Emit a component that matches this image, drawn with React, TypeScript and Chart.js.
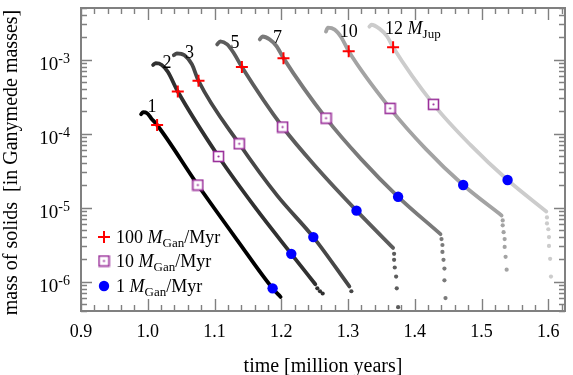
import { useEffect, useRef } from "react";
import { Chart, registerables } from "chart.js";

Chart.register(...registerables);

// ---------- data ----------
const X_MIN = 0.9;
const X_MAX = 1.625;
const Y_MIN = 4e-7;
const Y_MAX = 5e-3;

const xTickValues = [0.9, 1.0, 1.1, 1.2, 1.3, 1.4, 1.5, 1.6];
const xTickLabels = ["0.9", "1.0", "1.1", "1.2", "1.3", "1.4", "1.5", "1.6"];
const yTickExponents = [-6, -5, -4, -3];

const c1T = [0.99, 0.993, 0.999, 1.005, 1.014, 1.075, 1.135, 1.187, 1.199];
const c1M = [1.83e-4, 1.95e-4, 1.89e-4, 1.62e-4, 1.31e-4, 2.02e-5, 3.53e-6, 8.1e-7, 6.2e-7];
const c1TailT: number[] = [];
const c1TailM: number[] = [];

const c2T = [1.008, 1.012, 1.021, 1.03, 1.045, 1.106, 1.16, 1.215, 1.251];
const c2M = [8.48e-4, 9.0e-4, 8.5e-4, 6.85e-4, 3.71e-4, 4.91e-5, 1.03e-5, 2.37e-6, 9.2e-7];
const c2TailT = [1.254, 1.258, 1.262];
const c2TailM = [8.1e-7, 7.4e-7, 6.9e-7];

const c3T = [1.039, 1.0435, 1.055, 1.066, 1.076, 1.137, 1.194, 1.248, 1.302];
const c3M = [1.15e-3, 1.22e-3, 1.15e-3, 8.7e-4, 5.19e-4, 7.3e-5, 1.45e-5, 3.99e-6, 8.6e-7];
const c3TailT = [1.305];
const c3TailM = [7.4e-7];

const c5T = [1.104, 1.1086, 1.119, 1.129, 1.141, 1.202, 1.2565, 1.3127, 1.3675];
const c5M = [1.61e-3, 1.77e-3, 1.61e-3, 1.22e-3, 7.97e-4, 1.23e-4, 3.2e-5, 9.1e-6, 2.85e-6];
const c5TailT = [1.369, 1.369, 1.37, 1.372, 1.373, 1.375];
const c5TailM = [2.37e-6, 1.97e-6, 1.55e-6, 1.17e-6, 8.1e-7, 4.5e-7];

const c7T = [1.1678, 1.172, 1.1825, 1.193, 1.2033, 1.267, 1.32, 1.375, 1.4385];
const c7M = [1.88e-3, 2.06e-3, 1.88e-3, 1.52e-3, 1.05e-3, 1.62e-4, 4.49e-5, 1.4e-5, 4.38e-6];
const c7TailT = [1.44, 1.4414, 1.4414, 1.443, 1.4444, 1.4444, 1.446];
const c7TailM = [3.75e-6, 3.12e-6, 2.52e-6, 1.97e-6, 1.5e-6, 1.04e-6, 5.98e-7];

const c10T = [1.2669, 1.2698, 1.28, 1.29, 1.301, 1.363, 1.416, 1.4725, 1.53];
const c10M = [2.4e-3, 2.71e-3, 2.55e-3, 2.0e-3, 1.3e-3, 2.2e-4, 6.28e-5, 2.02e-5, 7.83e-6];
const c10TailT = [1.5317, 1.5317, 1.533, 1.5346, 1.5346, 1.536, 1.5376];
const c10TailM = [6.7e-6, 5.76e-6, 4.65e-6, 3.75e-6, 2.94e-6, 2.16e-6, 1.45e-6];

const c12T = [1.332, 1.335, 1.347, 1.3586, 1.3675, 1.428, 1.483, 1.539, 1.597];
const c12M = [2.8e-3, 2.97e-3, 2.63e-3, 2.06e-3, 1.47e-3, 2.49e-4, 7.1e-5, 2.36e-5, 8.85e-6];
const c12TailT = [1.598, 1.598, 1.6, 1.601, 1.601, 1.6027, 1.604];
const c12TailM = [7.36e-6, 6.12e-6, 5.1e-6, 3.99e-6, 3.03e-6, 2.03e-6, 1.17e-6];

const plusT = [1.014, 1.045, 1.076, 1.141, 1.2033, 1.301, 1.3675];
const plusM = [1.31e-4, 3.71e-4, 5.19e-4, 7.97e-4, 1.05e-3, 1.3e-3, 1.47e-3];
const squareT = [1.075, 1.106, 1.137, 1.202, 1.267, 1.363, 1.428];
const squareM = [2.02e-5, 4.91e-5, 7.3e-5, 1.23e-4, 1.62e-4, 2.2e-4, 2.49e-4];
const circleT = [1.187, 1.215, 1.248, 1.3127, 1.375, 1.4725, 1.539];
const circleM = [8.1e-7, 2.37e-6, 3.99e-6, 9.1e-6, 1.4e-5, 2.02e-5, 2.36e-5];

const curveLabels = ["1", "2", "3", "5", "7", "10", "12"];
const curveLabelT = [1.0065, 1.0287, 1.0627, 1.1308, 1.1944, 1.3009, 1.369];
const curveLabelM = [2.34e-4, 9.3e-4, 1.26e-3, 1.71e-3, 2.0e-3, 2.48e-3, 2.72e-3];

const legendRates = ["100", "10", "1"];

const curveColors = ["#000000", "#303030", "#474747", "#5c5c5c", "#7a7a7a", "#a3a3a3", "#cccccc"];

// ---------- helpers ----------
const SERIF = "'Liberation Serif', 'Times New Roman', serif";
const AXIS_COLOR = "#808080";
const PLUS_COLOR = "#ff0000";
const SQUARE_COLOR = "#9a2f9a";
const CIRCLE_COLOR = "#0000ff";

const pts = (t: number[], m: number[]) => t.map((v, i) => ({ x: v, y: m[i] }));

function makeSquareImage(): HTMLCanvasElement {
  const c = document.createElement("canvas");
  c.width = 13;
  c.height = 13;
  const g = c.getContext("2d")!;
  g.fillStyle = "#ffffff";
  g.fillRect(1, 1, 11, 11);
  g.strokeStyle = SQUARE_COLOR;
  g.lineWidth = 1.6;
  g.strokeRect(1.5, 1.5, 10, 10);
  g.fillStyle = SQUARE_COLOR;
  g.beginPath();
  g.arc(6.5, 6.5, 1.1, 0, Math.PI * 2);
  g.fill();
  return c;
}

function drawPlus(ctx: CanvasRenderingContext2D, x: number, y: number, r: number) {
  ctx.save();
  ctx.strokeStyle = PLUS_COLOR;
  ctx.lineWidth = 2;
  ctx.beginPath();
  ctx.moveTo(x - r, y);
  ctx.lineTo(x + r, y);
  ctx.moveTo(x, y - r);
  ctx.lineTo(x, y + r);
  ctx.stroke();
  ctx.restore();
}

// text with italic M and subscript
function drawMText(
  ctx: CanvasRenderingContext2D,
  x: number,
  y: number,
  pre: string,
  sub: string,
  post: string,
  size: number,
  subSize: number
) {
  ctx.save();
  ctx.textAlign = "left";
  ctx.textBaseline = "alphabetic";
  ctx.fillStyle = "#000";
  ctx.font = `${size}px ${SERIF}`;
  ctx.fillText(pre, x, y);
  x += ctx.measureText(pre).width;
  ctx.font = `italic ${size}px ${SERIF}`;
  ctx.fillText("M", x, y);
  x += ctx.measureText("M").width;
  ctx.font = `${subSize}px ${SERIF}`;
  ctx.fillText(sub, x, y + 4);
  x += ctx.measureText(sub).width;
  if (post) {
    ctx.font = `${size}px ${SERIF}`;
    ctx.fillText(post, x, y);
  }
  ctx.restore();
}

export default function App() {
  const ref = useRef<HTMLCanvasElement | null>(null);

  useEffect(() => {
    document.body.style.margin = "0";
    const canvas = ref.current!;
    const squareImg = makeSquareImage();

    const lineSets = [
      [c1T, c1M, c1TailT, c1TailM],
      [c2T, c2M, c2TailT, c2TailM],
      [c3T, c3M, c3TailT, c3TailM],
      [c5T, c5M, c5TailT, c5TailM],
      [c7T, c7M, c7TailT, c7TailM],
      [c10T, c10M, c10TailT, c10TailM],
      [c12T, c12M, c12TailT, c12TailM],
    ];

    const datasets: any[] = [];
    lineSets.forEach((s, i) => {
      datasets.push({
        data: pts(s[0], s[1]),
        borderColor: curveColors[i],
        borderWidth: 3.8,
        pointRadius: 0,
        showLine: true,
        cubicInterpolationMode: "monotone",
        borderCapStyle: "round",
        borderJoinStyle: "round",
        order: 2,
      });
      datasets.push({
        data: pts(s[2], s[3]),
        borderColor: curveColors[i],
        backgroundColor: curveColors[i],
        pointRadius: 2.1,
        pointBorderWidth: 0,
        showLine: false,
        order: 2,
      });
    });
    datasets.push({
      data: pts(plusT, plusM),
      pointStyle: "cross",
      pointRadius: 6,
      borderColor: PLUS_COLOR,
      pointBorderWidth: 2,
      showLine: false,
      order: 0,
    });
    datasets.push({
      data: pts(squareT, squareM),
      pointStyle: squareImg,
      pointRadius: 6,
      showLine: false,
      order: 0,
    });
    datasets.push({
      data: pts(circleT, circleM),
      pointStyle: "circle",
      pointRadius: 5.2,
      backgroundColor: CIRCLE_COLOR,
      borderColor: CIRCLE_COLOR,
      pointBorderWidth: 0,
      showLine: false,
      order: 0,
    });

    const deco = {
      id: "deco",
      afterDraw(chart: any) {
        const { ctx, chartArea: a, scales } = chart;
        const x = scales.x;
        const y = scales.y;
        ctx.save();
        // ticks
        ctx.strokeStyle = AXIS_COLOR;
        ctx.lineWidth = 1.4;
        ctx.beginPath();
        for (let i = 0; i <= 40; i++) {
          const v = X_MIN + i * 0.02;
          if (v > X_MAX + 1e-9) break;
          const px = Math.round(x.getPixelForValue(v)) + 0.5;
          const major = Math.abs(v * 10 - Math.round(v * 10)) < 1e-6;
          const len = major ? 12 : 6;
          ctx.moveTo(px, a.bottom);
          ctx.lineTo(px, a.bottom - len);
          ctx.moveTo(px, a.top);
          ctx.lineTo(px, a.top + len);
        }
        for (let e = -7; e <= -2; e++) {
          for (let k = 1; k <= 9; k++) {
            const v = k * Math.pow(10, e);
            if (v < Y_MIN * 0.999 || v > Y_MAX * 1.001) continue;
            const py = Math.round(y.getPixelForValue(v)) + 0.5;
            const len = k === 1 ? 11 : 6;
            ctx.moveTo(a.left, py);
            ctx.lineTo(a.left + len, py);
            ctx.moveTo(a.right, py);
            ctx.lineTo(a.right - len, py);
          }
        }
        ctx.stroke();
        // frame
        ctx.lineWidth = 2;
        ctx.strokeRect(a.left, a.top, a.right - a.left, a.bottom - a.top);

        // x tick labels
        ctx.fillStyle = "#000";
        ctx.font = `18px ${SERIF}`;
        ctx.textAlign = "center";
        ctx.textBaseline = "alphabetic";
        xTickValues.forEach((v, i) => {
          ctx.fillText(xTickLabels[i], x.getPixelForValue(v), a.bottom + 26);
        });
        // y tick labels 10^e
        yTickExponents.forEach((e) => {
          const py = y.getPixelForValue(Math.pow(10, e));
          const sup = String(e);
          ctx.font = `14px ${SERIF}`;
          const ws = ctx.measureText(sup).width;
          ctx.font = `19px ${SERIF}`;
          const wb = ctx.measureText("10").width;
          const right = a.left - 11;
          ctx.textAlign = "left";
          ctx.fillText("10", right - ws - wb, py + 10.5);
          ctx.font = `14px ${SERIF}`;
          ctx.fillText(sup, right - ws, py + 3.5);
        });
        // axis titles
        ctx.font = `20px ${SERIF}`;
        ctx.textAlign = "center";
        ctx.fillText("time [million years]", (a.left + a.right) / 2, a.bottom + 61);
        ctx.save();
        ctx.translate(17, (a.top + a.bottom) / 2 + 3);
        ctx.rotate(-Math.PI / 2);
        ctx.fillText("mass of solids  [in Ganymede masses]", 0, 0);
        ctx.restore();

        // curve labels
        curveLabels.forEach((lab, i) => {
          const px = x.getPixelForValue(curveLabelT[i]);
          const py = y.getPixelForValue(curveLabelM[i]);
          if (i === curveLabels.length - 1) {
            ctx.font = `18px ${SERIF}`;
            const w = ctx.measureText(lab).width;
            drawMText(ctx, px - w / 2, py + 6, lab + " ", "Jup", "", 18, 13);
          } else {
            ctx.font = `18px ${SERIF}`;
            ctx.textAlign = "center";
            ctx.fillStyle = "#000";
            ctx.fillText(lab, px, py + 6);
          }
        });

        // legend
        const lx = 104;
        const rows = [237, 261, 286];
        drawPlus(ctx, lx, rows[0], 6);
        ctx.drawImage(squareImg, lx - 6.5, rows[1] - 6.5);
        ctx.fillStyle = CIRCLE_COLOR;
        ctx.beginPath();
        ctx.arc(lx, rows[2], 5.2, 0, Math.PI * 2);
        ctx.fill();
        legendRates.forEach((r, i) => {
          drawMText(ctx, 116, rows[i] + 5.5, r + " ", "Gan", "/Myr", 18, 13);
        });
        ctx.restore();
      },
    };

    const chart = new Chart(canvas, {
      type: "scatter",
      data: { datasets },
      options: {
        responsive: false,
        animation: false,
        devicePixelRatio: 1,
        layout: { padding: { left: 81, top: 3, right: 3, bottom: 64 } },
        plugins: { legend: { display: false }, tooltip: { enabled: false } },
        scales: {
          x: { type: "linear", min: X_MIN, max: X_MAX, display: false },
          y: { type: "logarithmic", min: Y_MIN, max: Y_MAX, display: false },
        },
      },
      plugins: [deco],
    });
    return () => chart.destroy();
  }, []);

  return (
    <div style={{ width: 573, height: 375, background: "#fff" }}>
      <canvas ref={ref} width={573} height={375} />
    </div>
  );
}
